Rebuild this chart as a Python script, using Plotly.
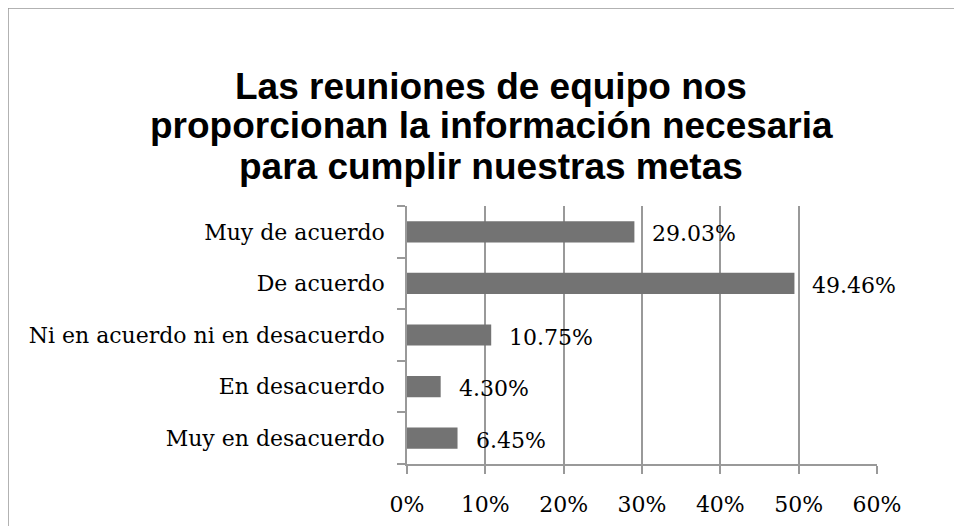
import plotly.graph_objects as go

# survey answers, listed bottom to top as plotly draws categories
categories = ["Muy en desacuerdo", "En desacuerdo", "Ni en acuerdo ni en desacuerdo",
              "De acuerdo", "Muy de acuerdo"]
percentages = [6.45, 4.30, 10.75, 49.46, 29.03]
x_ticks = [0, 10, 20, 30, 40, 50, 60]
x_tick_labels = [f"{t}%" for t in x_ticks]

title_lines = ["Las reuniones de equipo nos",
               "proporcionan la información necesaria",
               "para cumplir nuestras metas"]

serif = "DejaVu Serif"
grey = "#999999"

# plot area in figure pixels (page body adds an 8px offset)
L, R, T, B = 399, 869, 198, 456


def px_x(x):
    return (x - L) / (R - L)


def px_y(y):
    return (B - y) / (B - T)


fig = go.Figure(go.Bar(
    x=percentages, y=categories, orientation="h",
    marker=dict(color="#737373", line=dict(width=0)),
    width=0.41, hoverinfo="skip",
))

# value labels to the right of each bar
for val, cat in zip(percentages, categories):
    fig.add_annotation(x=val, y=cat, text=f"{val:.2f}%", showarrow=False,
                       xanchor="left", xshift=16, yshift=-2,
                       font=dict(family=serif, size=22, color="black"))

# three-line bold title
for i, line in enumerate(title_lines):
    fig.add_annotation(x=px_x(483), y=px_y(78 + 40 * i), xref="paper", yref="paper",
                       text=line, showarrow=False, xanchor="center", yanchor="middle",
                       font=dict(family="Liberation Sans", size=37, color="black",
                                 weight="bold"))

# outer frame of the chart (runs past the bottom of the picture)
fig.add_shape(type="rect", xref="paper", yref="paper",
              x0=px_x(0), x1=px_x(947), y0=px_y(600), y1=px_y(0),
              line=dict(color="#999999", width=1.5), layer="below")

fig.update_layout(
    width=962, height=526,
    margin=dict(l=L, r=962 - R, t=T, b=526 - B),
    paper_bgcolor="white", plot_bgcolor="white",
    showlegend=False,
    xaxis=dict(range=[0, 60], tickvals=x_ticks, ticktext=x_tick_labels,
               showgrid=True, gridcolor=grey, gridwidth=1.5,
               showline=True, linecolor=grey, linewidth=1.5,
               ticks="outside", ticklen=8, tickcolor=grey, tickwidth=1.5,
               tickfont=dict(family=serif, size=22, color="black"),
               ticklabelstandoff=12, zeroline=False, fixedrange=True),
    yaxis=dict(showline=True, linecolor=grey, linewidth=1.5,
               ticks="outside", ticklen=8, tickcolor=grey, tickwidth=1.5,
               tickson="boundaries", showgrid=False,
               tickfont=dict(family=serif, size=22, color="black"),
               ticklabelstandoff=16, fixedrange=True),
)

fig.write_html("out.html")
